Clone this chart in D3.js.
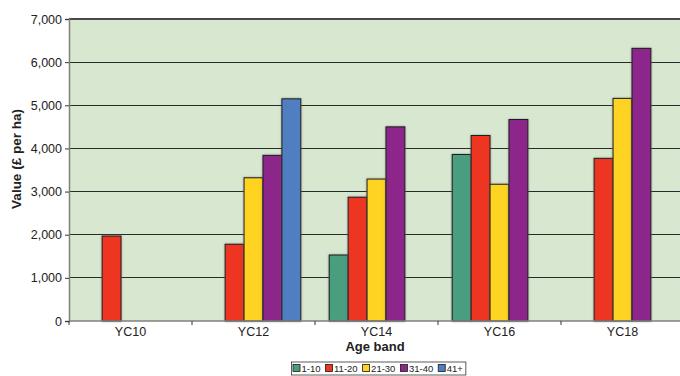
<!DOCTYPE html>
<html>
<head>
<meta charset="utf-8">
<script src="https://cdn.jsdelivr.net/npm/d3@7"></script>
<style>
  html, body { margin: 0; padding: 0; background: #fff; }
  svg { display: block; font-family: "Liberation Sans", Arial, sans-serif; }
</style>
</head>
<body>
<svg id="chart" width="680" height="376"></svg>
<script>
// Yield classes along the x axis
const categories = ["YC10", "YC12", "YC14", "YC16", "YC18"];
// Age bands (one bar per band inside each yield class)
const ageBands = ["1-10", "11-20", "21-30", "31-40", "41+"];
const bandColors = ["#4a9e80", "#ee3524", "#ffd320", "#8c278b", "#4f7fc1"];
// Value (£ per ha) per age band, indexed like categories; null = no bar
const band1_10  = [null, null, 1530, 3860, null];
const band11_20 = [1970, 1780, 2870, 4300, 3770];
const band21_30 = [null, 3320, 3290, 3170, 5160];
const band31_40 = [null, 3840, 4500, 4670, 6320];
const band41    = [null, 5150, null, null, null];
const yTicks = [0, 1000, 2000, 3000, 4000, 5000, 6000, 7000];

const series = [band1_10, band11_20, band21_30, band31_40, band41];

const svg = d3.select("#chart");
const plotL = 69, plotR = 684, plotT = 19, plotB = 321;

const x = d3.scaleBand().domain(categories).range([plotL, plotR]).padding(0);
const xs = d3.scaleBand().domain(ageBands).range([0, x.bandwidth()])
  .paddingInner(0).paddingOuter(0.75);
const y = d3.scaleLinear().domain([0, 7000]).range([plotB, plotT]);

// soft halo behind the columns
const defs = svg.append("defs");
const f = defs.append("filter").attr("id", "halo")
  .attr("x", "-20%").attr("y", "-20%").attr("width", "140%").attr("height", "140%");
f.append("feDropShadow").attr("dx", 0).attr("dy", 0).attr("stdDeviation", 0.8)
  .attr("flood-color", "#666").attr("flood-opacity", 0.6);

// plot area background
svg.append("rect")
  .attr("x", plotL).attr("y", plotT)
  .attr("width", plotR - plotL).attr("height", plotB - plotT)
  .attr("fill", "#d8e8d0");

// horizontal gridlines
svg.append("g")
  .selectAll("line")
  .data(yTicks.filter(d => d > 0 && d < 7000))
  .join("line")
  .attr("x1", plotL).attr("x2", plotR)
  .attr("y1", d => y(d)).attr("y2", d => y(d))
  .attr("stroke", "#2a2a2a").attr("stroke-width", 1)
  .attr("shape-rendering", "crispEdges");

// top border of the plot area
svg.append("line")
  .attr("x1", plotL).attr("x2", plotR)
  .attr("y1", y(7000)).attr("y2", y(7000))
  .attr("stroke", "#4a4a4a").attr("stroke-width", 2);

// columns
const groups = svg.append("g").selectAll("g")
  .data(series)
  .join("g")
  .attr("fill", (d, i) => bandColors[i]);

groups.selectAll("rect")
  .data((vals, si) => vals.map((v, ci) => ({ v, ci, si })).filter(d => d.v != null))
  .join("rect")
  .attr("x", d => x(categories[d.ci]) + xs(ageBands[d.si]))
  .attr("width", xs.bandwidth())
  .attr("y", d => y(d.v))
  .attr("height", d => y(0) - y(d.v))
  .attr("stroke", "#1a1a1a").attr("stroke-width", 1)
  .attr("filter", "url(#halo)");

// y axis
const yAxis = svg.append("g")
  .attr("transform", `translate(${plotL},0)`)
  .call(d3.axisLeft(y).tickValues(yTicks).tickFormat(d3.format(",")).tickSize(4).tickPadding(3));
yAxis.select(".domain").attr("stroke", "#808080").attr("stroke-width", 1.5);
yAxis.selectAll(".tick line").attr("stroke", "#333");
yAxis.selectAll("text").attr("font-size", 12.5).attr("fill", "#222")
  .attr("font-family", "Liberation Sans, Arial, sans-serif");

// x axis: labels centred in each band, ticks at band boundaries
const xAxis = svg.append("g")
  .attr("transform", `translate(0,${plotB})`)
  .call(d3.axisBottom(x).tickSize(0).tickPadding(6));
xAxis.select(".domain").remove();
xAxis.selectAll("text").attr("font-size", 12.5).attr("fill", "#222")
  .attr("font-family", "Liberation Sans, Arial, sans-serif");
svg.append("line")
  .attr("x1", plotL).attr("x2", plotR)
  .attr("y1", plotB).attr("y2", plotB)
  .attr("stroke", "#808080").attr("stroke-width", 1.5);
svg.append("g").selectAll("line")
  .data(categories)
  .join("line")
  .attr("x1", d => x(d)).attr("x2", d => x(d))
  .attr("y1", plotB).attr("y2", plotB + 4)
  .attr("stroke", "#333");

// axis titles
svg.append("text")
  .attr("x", 375).attr("y", 351)
  .attr("text-anchor", "middle")
  .attr("font-size", 13).attr("font-weight", "bold").attr("fill", "#222")
  .text("Age band");

svg.append("text")
  .attr("transform", "translate(21,159) rotate(-90)")
  .attr("text-anchor", "middle")
  .attr("font-size", 13.5).attr("font-weight", "bold").attr("fill", "#222")
  .text("Value (£ per ha)");

// legend
const legend = svg.append("g").attr("font-size", 9.5).attr("fill", "#222");
const legX0 = 293, legY = 368.5;
let cx = legX0;
ageBands.forEach((name, i) => {
  legend.append("rect")
    .attr("x", cx).attr("y", legY - 4).attr("width", 7).attr("height", 7)
    .attr("fill", bandColors[i]).attr("stroke", "#1a1a1a").attr("stroke-width", 0.8);
  const t = legend.append("text")
    .attr("x", cx + 8.5).attr("y", legY + 3.3)
    .text(name);
  cx += 8.5 + t.node().getComputedTextLength() + 5;
});
legend.insert("rect", ":first-child")
  .attr("x", legX0 - 1.5).attr("y", 362)
  .attr("width", cx - legX0 - 0.5).attr("height", 13)
  .attr("fill", "#fff").attr("stroke", "#333").attr("stroke-width", 0.8);
</script>
</body>
</html>
